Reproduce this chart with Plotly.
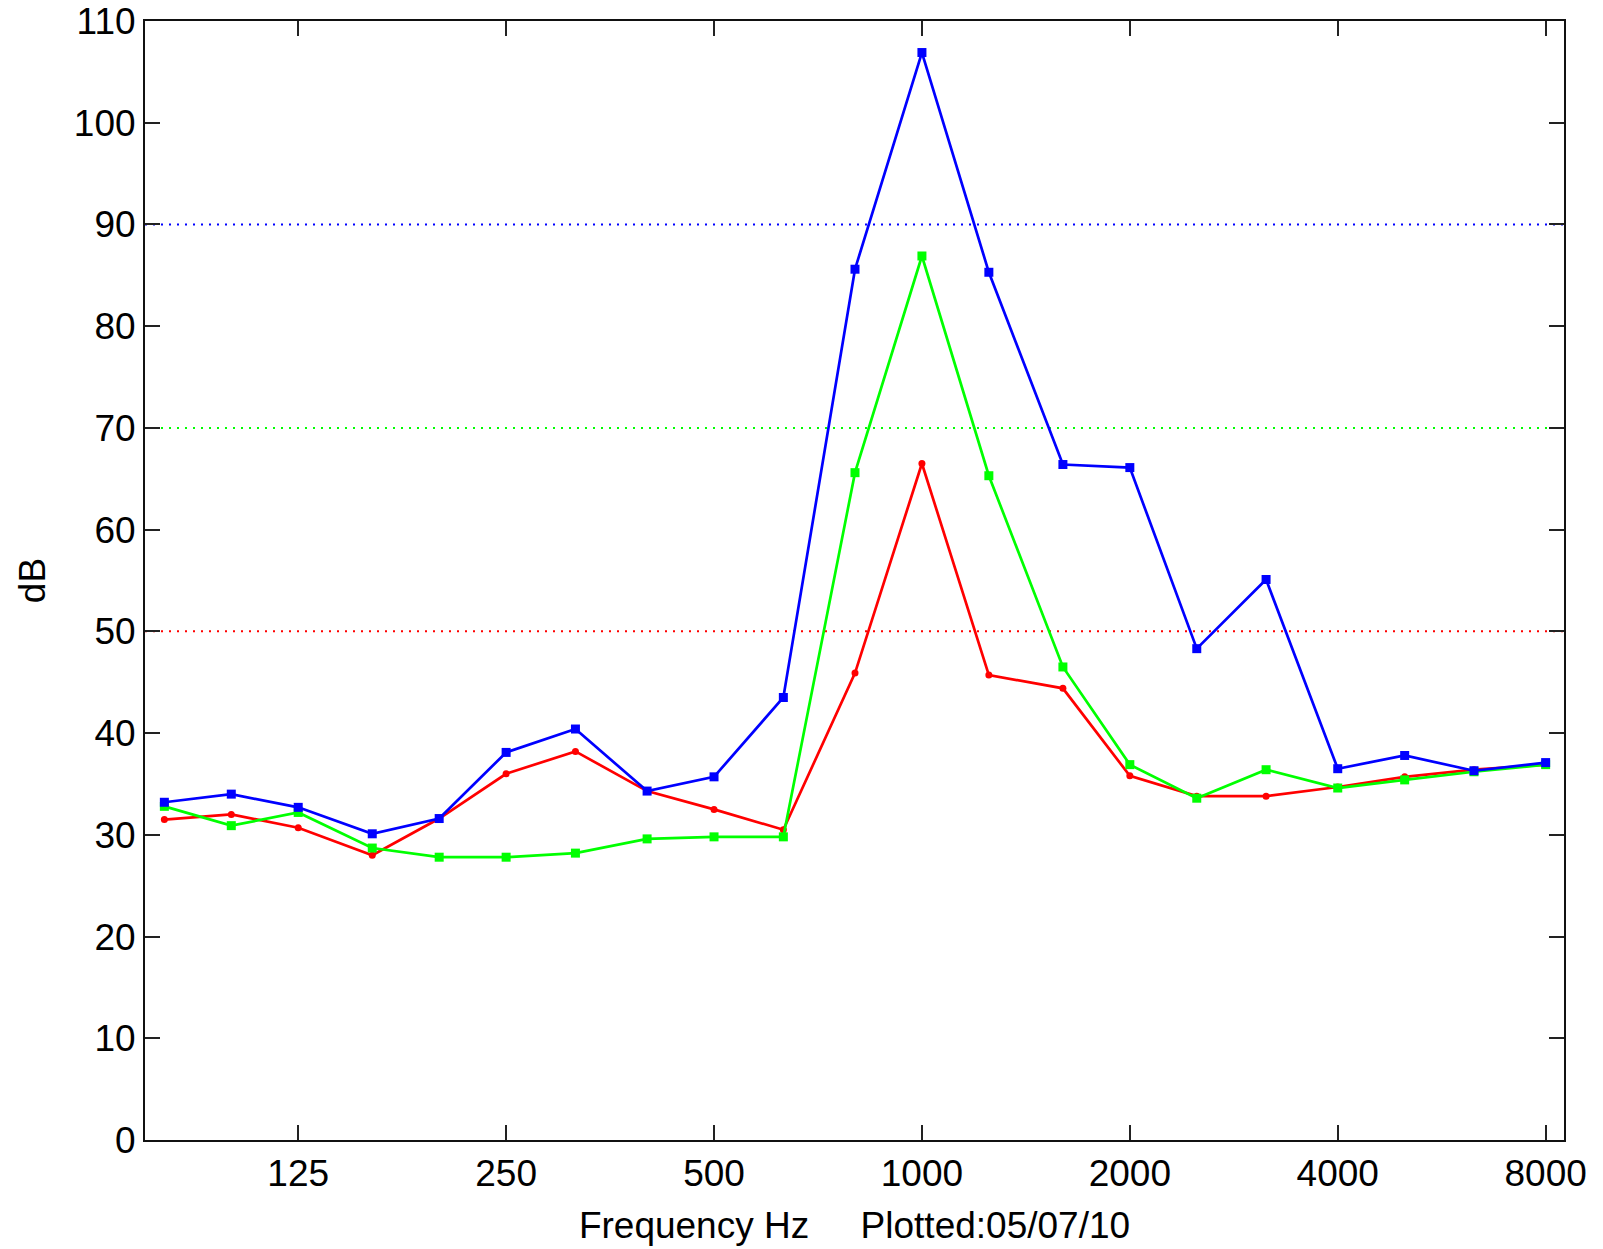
import plotly.graph_objects as go
import numpy as np

# One-third octave band centre frequencies (Hz)
freqs = [80, 100, 125, 160, 200, 250, 315, 400, 500, 630, 800, 1000,
         1250, 1600, 2000, 2500, 3150, 4000, 5000, 6300, 8000]

# Measured band levels (dB)
blue_db = [33.2, 34.0, 32.7, 30.1, 31.6, 38.1, 40.4, 34.3, 35.7, 43.5, 85.6, 106.9,
           85.3, 66.4, 66.1, 48.3, 55.1, 36.5, 37.8, 36.3, 37.1]
green_db = [32.8, 30.9, 32.2, 28.7, 27.8, 27.8, 28.2, 29.6, 29.8, 29.8, 65.6, 86.9,
            65.3, 46.5, 36.9, 33.6, 36.4, 34.6, 35.4, 36.2, 36.9]
red_db = [31.5, 32.0, 30.7, 28.0, 31.6, 36.0, 38.2, 34.3, 32.5, 30.5, 45.9, 66.5,
          45.7, 44.4, 35.8, 33.8, 33.8, 34.7, 35.7, 36.4, 36.9]

# Reference levels (dB) drawn as dotted horizontal lines
ref_levels = [90, 70, 50]
ref_colors = ["#0000ff", "#00ff00", "#ff0000"]

x_ticks = [125, 250, 500, 1000, 2000, 4000, 8000]
x_lim = [75, 8505]

fig = go.Figure()

for lvl, col in zip(ref_levels, ref_colors):
    fig.add_shape(type="line", xref="x domain", yref="y", x0=0, x1=1, y0=lvl, y1=lvl,
                  line=dict(color=col, width=2, dash="2px,6px"), layer="below")

fig.add_trace(go.Scatter(x=freqs, y=red_db, mode="lines+markers",
                         line=dict(color="#ff0000", width=2.7),
                         marker=dict(symbol="circle", size=7, color="#ff0000")))
fig.add_trace(go.Scatter(x=freqs, y=green_db, mode="lines+markers",
                         line=dict(color="#00ff00", width=2.7),
                         marker=dict(symbol="square", size=9, color="#00ff00")))
fig.add_trace(go.Scatter(x=freqs, y=blue_db, mode="lines+markers",
                         line=dict(color="#0000ff", width=2.7),
                         marker=dict(symbol="square", size=9, color="#0000ff")))

font = dict(family="Liberation Sans, Arial, Helvetica, sans-serif", size=37, color="#000000")

fig.update_layout(
    width=1603, height=1249,
    margin=dict(l=145, r=39, t=21, b=109, autoexpand=False),
    paper_bgcolor="white", plot_bgcolor="white",
    showlegend=False,
    font=font,
    xaxis=dict(type="log", range=[np.log10(x_lim[0]), np.log10(x_lim[1])],
               tickmode="array", tickvals=x_ticks, ticktext=[str(t) for t in x_ticks],
               ticks="inside", ticklen=15, tickwidth=1.5, tickcolor="#222222",
               showline=True, linecolor="#111111", linewidth=2, mirror="allticks",
               showgrid=False, zeroline=False, automargin=False,
               ticklabeloverflow="allow",
               title=dict(text="Frequency Hz\u00a0\u00a0\u00a0\u00a0\u00a0Plotted:05/07/10",
                          standoff=19, font=font)),
    yaxis=dict(range=[0, 110], dtick=10,
               ticks="inside", ticklen=15, tickwidth=1.5, tickcolor="#222222",
               showline=True, linecolor="#111111", linewidth=2, mirror="allticks",
               showgrid=False, zeroline=False, automargin=False,
               ticklabeloverflow="allow",
               title=dict(text="dB", standoff=17, font=font)),
)

fig.write_html("out.html")
